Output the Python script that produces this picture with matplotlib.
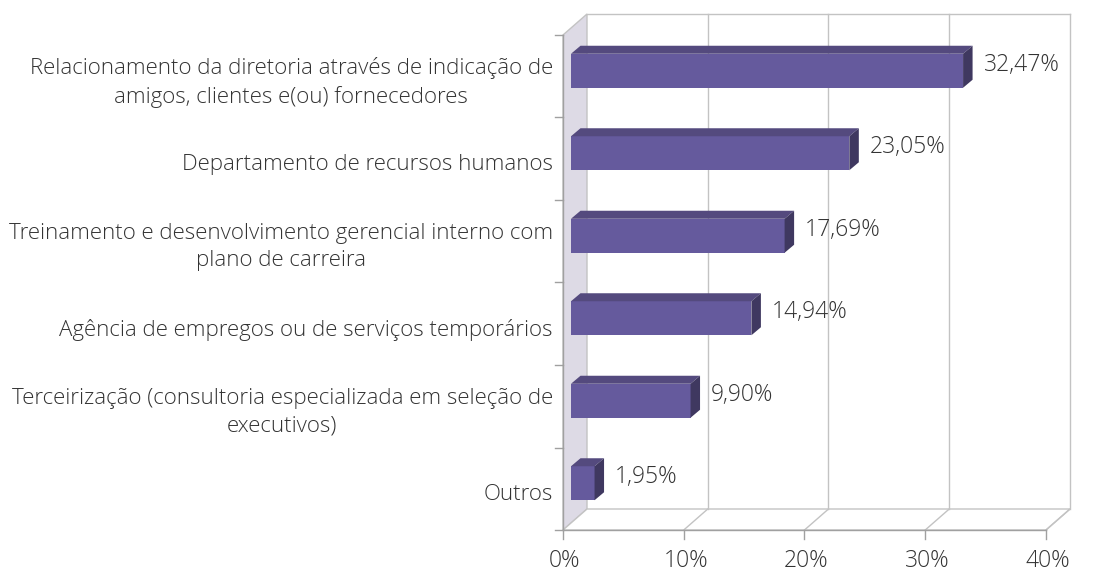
import numpy as np
import matplotlib.pyplot as plt
from matplotlib.patches import Polygon

plt.rcParams['font.family'] = ['Open Sans', 'DejaVu Sans']

categories = [
    "Relacionamento da diretoria através de indicação de\namigos, clientes e(ou) fornecedores",
    "Departamento de recursos humanos",
    "Treinamento e desenvolvimento gerencial interno com\nplano de carreira",
    "Agência de empregos ou de serviços temporários",
    "Terceirização (consultoria especializada em seleção de\nexecutivos)",
    "Outros",
]
values = [32.47, 23.05, 17.69, 14.94, 9.90, 1.95]
value_labels = ["32,47%", "23,05%", "17,69%", "14,94%", "9,90%", "1,95%"]
xticks = [0, 10, 20, 30, 40]
xtick_labels = ["0%", "10%", "20%", "30%", "40%"]

W, H = 1096, 573
fig = plt.figure(figsize=(W / 100, H / 100), dpi=100)
ax = fig.add_axes([0, 0, 1, 1])
ax.set_axis_off()

# pixel scale of the plot box
sx = 12.075   # px per percent
sy = 82.5     # px per category slot
x0px, y0px = 563, 530
ax.set_xlim(-x0px / sx, (W - x0px) / sx)
ax.set_ylim((y0px - H) / sy, y0px / sy)

n = len(categories)
xmax = 40
DX, DY = 24 / sx, 21 / sy          # wall depth
grid_c = "#c3c3c3"
text_c = "#333333"

# side wall
ax.add_patch(Polygon([(0, 0), (DX, DY), (DX, n + DY), (0, n)],
                     facecolor="#dddae5", edgecolor=grid_c, lw=1, zorder=1))
# floor
ax.add_patch(Polygon([(0, 0), (xmax, 0), (xmax + DX, DY), (DX, DY)],
                     facecolor="white", edgecolor=grid_c, lw=1, zorder=1))
# back wall gridlines
for v in xticks[1:]:
    ax.plot([v + DX, v + DX], [DY, n + DY], color=grid_c, lw=1, zorder=1)
    ax.plot([v, v + DX], [0, DY], color=grid_c, lw=1, zorder=1)
ax.plot([DX, xmax + DX], [n + DY, n + DY], color=grid_c, lw=1, zorder=1)

# front axis lines and ticks
ax.plot([0, 0], [0, n], color="#a0a0a0", lw=1, zorder=2)
ax.plot([0, xmax], [0, 0], color="#a0a0a0", lw=1, zorder=2)
for k in range(n + 1):
    ax.plot([-8 / sx, 0], [k, k], color="#a0a0a0", lw=1, zorder=2)
for v, lab in zip(xticks, xtick_labels):
    ax.plot([v, v], [0, -9 / sy], color="#a0a0a0", lw=1, zorder=2)
    ax.text(v + 2 / sx, -19 / sy, lab, ha="center", va="top", fontsize=16.5,
            color=text_c, fontweight="light")

# 3d bars
bx = 8 / sx            # front face offset from wall
by = 5.5 / sy
hh = 17 / sy           # half height of front face
ddx, ddy = 9.5 / sx, 8 / sy
front_c, top_c, side_c = "#655a9d", "#544a7e", "#3f3860"

for i, (cat, v, vl) in enumerate(zip(categories, values, value_labels)):
    yc = n - i - 0.5 + by
    x1, x2 = bx, bx + v
    y1, y2 = yc - hh, yc + hh
    ax.add_patch(Polygon([(x1, y1), (x2, y1), (x2, y2), (x1, y2)],
                         facecolor=front_c, edgecolor="none", zorder=5))
    ax.add_patch(Polygon([(x1, y2), (x2, y2), (x2 + ddx, y2 + ddy), (x1 + ddx, y2 + ddy)],
                         facecolor=top_c, edgecolor="none", zorder=5))
    ax.add_patch(Polygon([(x2, y1), (x2 + ddx, y1 + ddy), (x2 + ddx, y2 + ddy), (x2, y2)],
                         facecolor=side_c, edgecolor="none", zorder=5))
    ax.text(x2 + ddx + 11 / sx, yc + 6 / sy, vl, ha="left", va="center",
            fontsize=16.5, color=text_c, fontweight="light", zorder=6)
    ax.text(-10 / sx, n - i - 0.5 - 6 / sy, cat, ha="right", va="center",
            multialignment="center", fontsize=16, color=text_c,
            fontweight="light", linespacing=1.4)

fig.savefig("out.png", dpi=100)
